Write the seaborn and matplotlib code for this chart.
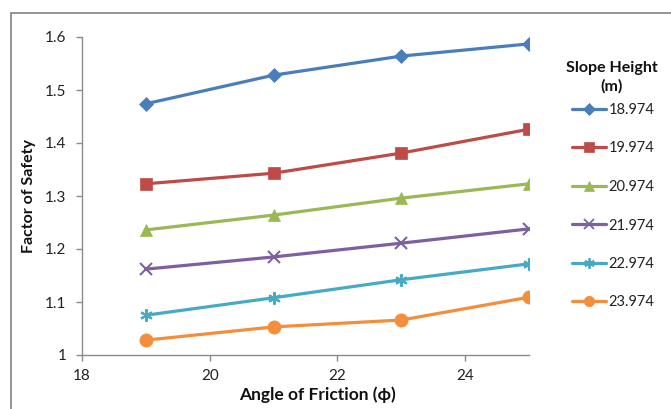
import matplotlib
matplotlib.use("Agg")
import matplotlib.pyplot as plt
from matplotlib.lines import Line2D
from matplotlib.patches import Rectangle
import seaborn as sns
import pandas as pd

# Angle of friction (degrees)
friction_angles = [19, 21, 23, 25]

# Slope heights (m) and matching factor of safety values
slope_heights = ["18.974", "19.974", "20.974", "21.974", "22.974", "23.974"]
fos_18974 = [1.474, 1.528, 1.564, 1.587]
fos_19974 = [1.323, 1.343, 1.381, 1.426]
fos_20974 = [1.236, 1.264, 1.296, 1.323]
fos_21974 = [1.162, 1.185, 1.211, 1.238]
fos_22974 = [1.075, 1.108, 1.142, 1.172]
fos_23974 = [1.028, 1.053, 1.066, 1.109]

x_ticks = [18, 20, 22, 24]
y_ticks = [1.0, 1.1, 1.2, 1.3, 1.4, 1.5, 1.6]
y_tick_labels = ["1", "1.1", "1.2", "1.3", "1.4", "1.5", "1.6"]

series = [fos_18974, fos_19974, fos_20974, fos_21974, fos_22974, fos_23974]

colors = ["#4A7EBB", "#BE4B48", "#98B954", "#7D60A0", "#46AAC5", "#F38E3C"]
markers = ["D", "s", "^", "x", (6, 2, 0), "o"]
msizes = [7.5, 9, 9, 9, 9, 9.5]
msizes_leg = [6, 7.5, 7.5, 7.5, 7.5, 7.5]

sns.set_theme(style="white")
plt.rcParams["font.family"] = ["Lato", "DejaVu Sans"]

fig = plt.figure(figsize=(6.71, 4.09), dpi=100)
ax = fig.add_axes([82 / 671, 1 - 355 / 409, (529 - 82) / 671, (355 - 37) / 409])

for h, vals, c, m, ms in zip(slope_heights, series, colors, markers, msizes):
    d = pd.DataFrame({"angle": friction_angles, "fos": vals})
    line_art = m in ("x", (6, 2, 0))
    sns.lineplot(data=d, x="angle", y="fos", color=c, marker=m, markersize=ms,
                 markerfacecolor=c, markeredgecolor=c,
                 markeredgewidth=1.5 if line_art else 0.5,
                 linewidth=2.3, legend=False, ax=ax)

ax.set_xlim(18, 25)
ax.set_ylim(1.0, 1.6)
ax.set_xticks(x_ticks)
ax.set_xticklabels([str(t) for t in x_ticks])
ax.set_yticks(y_ticks)
ax.set_yticklabels(y_tick_labels)

for s in ["top", "right"]:
    ax.spines[s].set_visible(False)
for s in ["left", "bottom"]:
    ax.spines[s].set_color("#8C8C8C")
    ax.spines[s].set_linewidth(1.0)

ax.tick_params(axis="both", which="major", direction="out", length=4.3,
               width=1.0, color="#8C8C8C", labelsize=11, labelcolor="#222222",
               left=True, bottom=True)
ax.tick_params(axis="y", pad=7)
ax.tick_params(axis="x", pad=6)

ax.set_xlabel("Angle of Friction (ϕ)", fontsize=12.5, fontweight="bold",
              color="#111111")
ax.xaxis.set_label_coords((317 - 82) / (529 - 82), -(395 - 355) / (355 - 37),
                          transform=ax.transAxes)
ax.xaxis.label.set_va("center")
ax.set_ylabel("Factor of Safety", fontsize=11.5, fontweight="bold",
              color="#111111")
ax.yaxis.set_label_coords(-(82 - 29) / (529 - 82), 0.5, transform=ax.transAxes)
ax.yaxis.label.set_va("center")

# legend built from the series styles, with its heading as separate text
handles = []
for h, c, m, ms in zip(slope_heights, colors, markers, msizes_leg):
    handles.append(Line2D([], [], color=c, marker=m, markersize=ms, linewidth=2.3,
                          markerfacecolor=c, markeredgecolor=c,
                          markeredgewidth=1.3 if m in ("x", (6, 2, 0)) else 0.5,
                          label=h))
leg = fig.legend(handles=handles, loc="upper left",
                 bbox_to_anchor=(572 / 671, 1 - 103 / 409),
                 frameon=False, fontsize=10.5, handlelength=2.3,
                 handletextpad=0.2, labelspacing=1.68, borderaxespad=0,
                 borderpad=0)
for t in leg.get_texts():
    t.set_color("#222222")

fig.text(612 / 671, 1 - 77 / 409, "Slope Height\n(m)", ha="center", va="center",
         fontsize=11.5, fontweight="bold", color="#111111", linespacing=1.35,
         multialignment="center")

# outer chart frame
fig.patches.append(Rectangle((11 / 671, -0.2), 1.2, 0.2 + (1 - 13 / 409),
                             transform=fig.transFigure, fill=False,
                             edgecolor="#8C8C8C", linewidth=1.3, clip_on=False))

fig.savefig("out.png", dpi=100)
